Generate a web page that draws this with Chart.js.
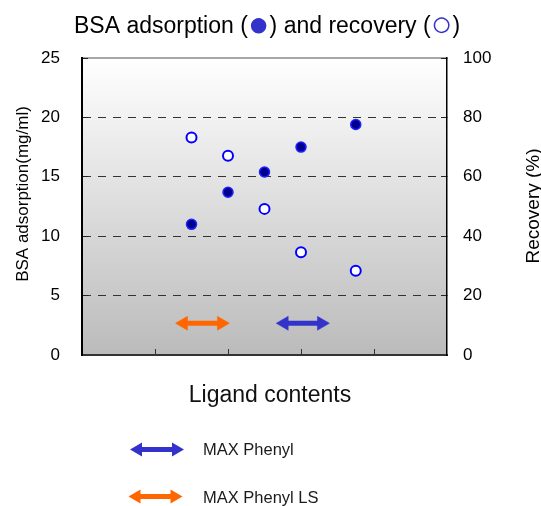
<!DOCTYPE html>
<html><head><meta charset="utf-8">
<script src="https://cdn.jsdelivr.net/npm/chart.js@4.4.0/dist/chart.umd.min.js"></script>
<style>html,body{margin:0;padding:0;background:#fff;}#wrap{width:541px;height:506px;position:relative;}</style>
</head><body><div id="wrap"><canvas id="c" width="541" height="506"></canvas></div>
<script>
// ---- data ----
const ligandContent = [1.5, 2, 2.5, 3, 3.75];
const bsaAdsorption = [11.0, 13.7, 15.4, 17.5, 19.4];
const recovery = [73.2, 67.1, 49.2, 34.6, 28.4];
const maxPhenylRange = [2.77, 3.28];
const maxPhenylLSRange = [1.39, 1.91];
const arrowLevel = 2.67;
const xTickValues = [1, 2, 3, 4];
const leftTickLabels = ['0', '5', '10', '15', '20', '25'];
const rightTickLabels = ['0', '20', '40', '60', '80', '100'];
const seriesNames = ['MAX Phenyl', 'MAX Phenyl LS'];
const titleParts = ['BSA adsorption (', '\u25CF', ') and recovery (', '\u25CB', ')'];
const leftTitle = 'BSA adsorption(mg/ml)';
const rightTitle = 'Recovery (%)';
const xTitle = 'Ligand contents';

const BLUE = '#3333cc', ORANGE = '#ff6600';
const FONT = '"Liberation Sans", Arial, sans-serif';

function pts(xs, ys) { return xs.map((x, i) => ({ x: x, y: ys[i] })); }
function arrowData(r) { return [{ x: r[0], y: arrowLevel }, { x: r[1], y: arrowLevel }]; }

function drawArrow(ctx, x1, x2, y, color) {
  const L = 12, H = 7;
  ctx.save();
  ctx.fillStyle = color; ctx.strokeStyle = color;
  ctx.lineWidth = 5;
  ctx.beginPath(); ctx.moveTo(x1 + L - 1, y); ctx.lineTo(x2 - L + 1, y); ctx.stroke();
  ctx.beginPath(); ctx.moveTo(x1, y); ctx.lineTo(x1 + L, y - H); ctx.lineTo(x1 + L, y + H); ctx.closePath(); ctx.fill();
  ctx.beginPath(); ctx.moveTo(x2, y); ctx.lineTo(x2 - L, y - H); ctx.lineTo(x2 - L, y + H); ctx.closePath(); ctx.fill();
  ctx.restore();
}

const decor = {
  id: 'decor',
  beforeDraw(chart) {
    const { ctx, chartArea: a } = chart;
    ctx.save();
    const g = ctx.createLinearGradient(0, a.top, 0, a.bottom);
    g.addColorStop(0, '#ffffff');
    g.addColorStop(1, '#bbbbbb');
    ctx.fillStyle = g;
    ctx.fillRect(a.left, a.top, a.right - a.left, a.bottom - a.top);
    ctx.strokeStyle = '#8a8a8a'; ctx.lineWidth = 1.5;
    ctx.beginPath(); ctx.moveTo(a.left, a.top); ctx.lineTo(a.right, a.top); ctx.stroke();
    ctx.restore();
  },
  afterDraw(chart) {
    const ctx = chart.ctx;
    ctx.save();
    // title
    const tf = '23px ' + FONT, cf = '36px ' + FONT;
    const widths = titleParts.map((t, i) => { ctx.font = (i % 2 ? cf : tf); return ctx.measureText(t).width; });
    const total = widths.reduce((s, w) => s + w, 0);
    let x = 267 - total / 2;
    ctx.textBaseline = 'alphabetic'; ctx.textAlign = 'left';
    titleParts.forEach((t, i) => {
      ctx.font = (i % 2 ? cf : tf);
      ctx.fillStyle = (i % 2 ? BLUE : '#000');
      ctx.fillText(t, x, i % 2 ? 36 : 33);
      x += widths[i];
    });
    // axis titles
    ctx.fillStyle = '#000';
    ctx.textAlign = 'center';
    ctx.font = '17px ' + FONT;
    ctx.save(); ctx.translate(28, 194); ctx.rotate(-Math.PI / 2); ctx.fillText(leftTitle, 0, 0); ctx.restore();
    ctx.font = '19px ' + FONT;
    ctx.save(); ctx.translate(539, 206); ctx.rotate(-Math.PI / 2); ctx.fillText(rightTitle, 0, 0); ctx.restore();
    ctx.font = '23px ' + FONT;
    ctx.fillStyle = '#111';
    ctx.fillText(xTitle, 270, 402);
    // legend
    const ds = chart.data.datasets;
    const rows = [{ d: ds[2], x1: 130, x2: 184, y: 449.5, ty: 454.5 }, { d: ds[3], x1: 128.5, x2: 182.5, y: 496.5, ty: 503 }];
    ctx.textAlign = 'left';
    ctx.font = '16.5px ' + FONT;
    rows.forEach(r => {
      drawArrow(ctx, r.x1, r.x2, r.y, r.d.borderColor);
      ctx.fillStyle = '#1a1a1a';
      ctx.fillText(r.d.label, 203, r.ty);
    });
    ctx.restore();
  }
};

const tickFont = { family: FONT, size: 17 };

new Chart(document.getElementById('c'), {
  type: 'scatter',
  data: {
    datasets: [
      { label: 'BSA adsorption', data: pts(ligandContent, bsaAdsorption), yAxisID: 'y',
        pointRadius: 5, pointHoverRadius: 5, backgroundColor: '#000090', borderColor: '#2020ff', borderWidth: 1.5 },
      { label: 'Recovery', data: pts(ligandContent, recovery), yAxisID: 'y2',
        pointRadius: 5, pointHoverRadius: 5, backgroundColor: '#ffffff', borderColor: '#0000ff', borderWidth: 2 },
      { label: seriesNames[0], data: arrowData(maxPhenylRange), yAxisID: 'y', showLine: true,
        borderColor: BLUE, backgroundColor: BLUE, borderWidth: 5, borderCapStyle: 'butt',
        pointStyle: 'triangle', pointRadius: 8, pointHoverRadius: 8, pointRotation: [-90, 90],
        pointBackgroundColor: BLUE, pointBorderColor: BLUE, pointBorderWidth: 0.5 },
      { label: seriesNames[1], data: arrowData(maxPhenylLSRange), yAxisID: 'y', showLine: true,
        borderColor: ORANGE, backgroundColor: ORANGE, borderWidth: 5, borderCapStyle: 'butt',
        pointStyle: 'triangle', pointRadius: 8, pointHoverRadius: 8, pointRotation: [-90, 90],
        pointBackgroundColor: ORANGE, pointBorderColor: ORANGE, pointBorderWidth: 0.5 }
    ]
  },
  options: {
    responsive: false, animation: false, devicePixelRatio: 1,
    layout: { padding: { top: 58, left: 0, right: 0, bottom: 0 } },
    plugins: { legend: { display: false }, title: { display: false }, tooltip: { enabled: false } },
    events: [],
    scales: {
      x: {
        type: 'linear', position: 'bottom', min: 0, max: 5,
        ticks: { display: false, stepSize: 1 },
        grid: { drawOnChartArea: false, tickLength: -6, tickWidth: 1,
          tickColor: c => xTickValues.includes(c.tick && c.tick.value) ? '#333' : 'rgba(0,0,0,0)' },
        border: { color: '#333', width: 2 },
        afterFit(s) { s.height = 151; }
      },
      y: {
        type: 'linear', position: 'left', min: 0, max: 25,
        ticks: { stepSize: 5, padding: 28, color: '#000', font: tickFont,
          callback: (v, i) => leftTickLabels[i] },
        grid: { lineWidth: 1, tickLength: -6, tickWidth: 1, tickColor: '#222', tickBorderDash: [],
          color: c => (c.tick && (c.tick.value === 0 || c.tick.value === 25)) ? 'rgba(0,0,0,0)' : '#333' },
        border: { color: '#000', width: 2, dash: [8, 7] },
        afterFit(s) { s.width = 82; }
      },
      y2: {
        type: 'linear', position: 'right', min: 0, max: 100,
        ticks: { stepSize: 20, padding: 22, color: '#000', font: tickFont,
          callback: (v, i) => rightTickLabels[i] },
        grid: { drawOnChartArea: false, tickLength: -6, tickWidth: 1, tickColor: '#222', tickBorderDash: [] },
        border: { color: '#000', width: 1.5 },
        afterFit(s) { s.width = 94; }
      }
    }
  },
  plugins: [decor]
});
</script>
</body></html>
